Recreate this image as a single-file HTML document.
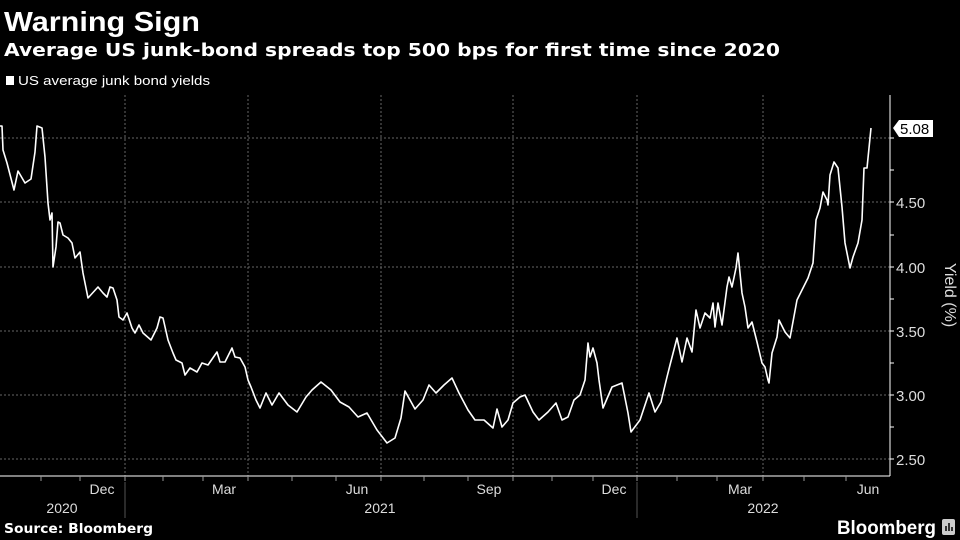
<!DOCTYPE html>
<html><head><meta charset="utf-8"><style>
html,body{margin:0;padding:0;background:#000;width:960px;height:540px;overflow:hidden}
svg{display:block;font-family:"Liberation Sans","DejaVu Sans",sans-serif}
</style></head><body>
<svg width="960" height="540" viewBox="0 0 960 540">
<rect width="960" height="540" fill="#000"/>
<text x="4" y="31" fill="#fff" font-size="28" font-weight="bold" textLength="196" lengthAdjust="spacingAndGlyphs">Warning Sign</text>
<text x="4" y="56" fill="#fff" font-size="18" font-weight="bold" font-family="DejaVu Sans,sans-serif" textLength="776" lengthAdjust="spacingAndGlyphs">Average US junk-bond spreads top 500 bps for first time since 2020</text>
<rect x="6" y="76" width="8" height="9" fill="#fff"/>
<text x="18" y="85" fill="#fff" font-size="13" textLength="192" lengthAdjust="spacingAndGlyphs">US average junk bond yields</text>
<g stroke="#666" stroke-width="1" stroke-dasharray="2,2">
<line x1="0" y1="138" x2="890" y2="138"/><line x1="0" y1="202" x2="890" y2="202"/><line x1="0" y1="267" x2="890" y2="267"/><line x1="0" y1="331" x2="890" y2="331"/><line x1="0" y1="395" x2="890" y2="395"/><line x1="0" y1="459" x2="890" y2="459"/>
<line x1="125" y1="95" x2="125" y2="476"/><line x1="248" y1="95" x2="248" y2="476"/><line x1="381" y1="95" x2="381" y2="476"/><line x1="513" y1="95" x2="513" y2="476"/><line x1="637" y1="95" x2="637" y2="476"/><line x1="763" y1="95" x2="763" y2="476"/>
</g>
<line x1="890" y1="95" x2="890" y2="476" stroke="#fff"/>
<line x1="0" y1="476" x2="890" y2="476" stroke="#fff"/>
<g stroke="#fff"><line x1="890" y1="138" x2="894" y2="138"/><line x1="890" y1="170" x2="894" y2="170"/><line x1="890" y1="202" x2="894" y2="202"/><line x1="890" y1="235" x2="894" y2="235"/><line x1="890" y1="267" x2="894" y2="267"/><line x1="890" y1="299" x2="894" y2="299"/><line x1="890" y1="331" x2="894" y2="331"/><line x1="890" y1="363" x2="894" y2="363"/><line x1="890" y1="395" x2="894" y2="395"/><line x1="890" y1="427" x2="894" y2="427"/><line x1="890" y1="459" x2="894" y2="459"/>
<g stroke="#999"><line x1="41" y1="476" x2="41" y2="481"/><line x1="80" y1="476" x2="80" y2="481"/><line x1="125" y1="476" x2="125" y2="481"/><line x1="163" y1="476" x2="163" y2="481"/><line x1="203" y1="476" x2="203" y2="481"/><line x1="248" y1="476" x2="248" y2="481"/><line x1="292" y1="476" x2="292" y2="481"/><line x1="336" y1="476" x2="336" y2="481"/><line x1="381" y1="476" x2="381" y2="481"/><line x1="424" y1="476" x2="424" y2="481"/><line x1="468" y1="476" x2="468" y2="481"/><line x1="513" y1="476" x2="513" y2="481"/><line x1="552" y1="476" x2="552" y2="481"/><line x1="593" y1="476" x2="593" y2="481"/><line x1="637" y1="476" x2="637" y2="481"/><line x1="677" y1="476" x2="677" y2="481"/><line x1="717" y1="476" x2="717" y2="481"/><line x1="763" y1="476" x2="763" y2="481"/><line x1="804" y1="476" x2="804" y2="481"/><line x1="846" y1="476" x2="846" y2="481"/></g>
<line x1="125" y1="482" x2="125" y2="518" stroke="#555"/><line x1="637" y1="482" x2="637" y2="518" stroke="#555"/>
</g>
<g fill="#ddd" font-size="15">
<text x="896" y="208">4.50</text><text x="896" y="273">4.00</text><text x="896" y="337">3.50</text><text x="896" y="401">3.00</text><text x="896" y="465">2.50</text>
</g>
<text transform="translate(945,295) rotate(90)" fill="#ddd" font-size="16" text-anchor="middle">Yield (%)</text>
<g fill="#ddd" font-size="14" text-anchor="middle">
<text x="102" y="494">Dec</text><text x="224" y="494">Mar</text><text x="357" y="494">Jun</text><text x="489" y="494">Sep</text><text x="614" y="494">Dec</text><text x="740" y="494">Mar</text><text x="868" y="494">Jun</text>
<text x="62" y="513">2020</text><text x="380" y="513">2021</text><text x="763" y="513">2022</text>
</g>
<polyline fill="none" stroke="#fff" stroke-width="1.6" stroke-linejoin="round" points="0,126 2,126 3,150 7,163 14,190 18,171 25,183 31,179 35,152 37,126 42,128 45,157 48,203 50,220 52,213 53,267 56,247 58,222 60,223 63,235 68,238 72,243 75,258 80,252 83,273 88,298 98,287 103,293 107,297 110,287 113,288 117,300 119,317 123,320 127,313 132,328 135,333 139,325 143,333 151,340 157,328 160,317 163,318 168,340 173,353 176,360 182,363 185,375 190,368 197,372 202,363 208,365 217,352 220,362 225,362 232,348 235,357 240,358 245,367 248,380 251,387 256,400 260,408 266,393 272,405 279,393 288,405 297,412 306,397 312,390 321,382 331,390 340,402 349,407 358,417 367,413 377,430 387,443 395,438 401,418 405,391 415,409 423,400 429,385 436,393 444,385 452,378 459,393 468,410 475,420 484,420 493,428 497,409 502,427 508,420 513,403 520,397 525,395 533,412 539,420 548,412 556,403 562,420 568,417 574,400 580,395 585,380 588,343 590,357 593,348 597,363 599,380 603,408 612,387 622,383 628,413 631,432 640,420 649,393 655,412 661,402 667,377 670,365 677,338 682,362 687,338 692,352 696,310 700,328 705,313 710,318 713,303 715,327 718,303 722,325 727,287 729,277 732,287 736,268 738,253 742,293 745,307 748,328 752,322 757,342 762,363 765,367 768,380 769,383 772,353 777,337 779,320 785,332 790,338 797,300 803,288 808,278 813,263 816,220 820,208 823,192 827,200 828,205 830,175 834,162 838,168 842,207 845,243 850,268 853,257 858,243 862,220 864,168 867,168 871,128"/>
<path d="M893,128 L899,120 L933,120 L933,137 L899,137 Z" fill="#fff"/>
<text x="900" y="134" fill="#000" font-size="15">5.08</text>
<text x="4" y="533" fill="#fff" font-size="13" font-weight="bold" font-family="DejaVu Sans,sans-serif" textLength="149" lengthAdjust="spacingAndGlyphs">Source: Bloomberg</text>
<text x="837" y="534" fill="#fff" font-size="19" font-weight="bold" textLength="99" lengthAdjust="spacingAndGlyphs">Bloomberg</text>
<rect x="942" y="519" width="13" height="16" rx="2" fill="#ccc"/>
<g stroke="#000" stroke-width="1.5"><line x1="946" y1="531" x2="946" y2="526"/><line x1="949" y1="531" x2="949" y2="523"/><line x1="952" y1="531" x2="952" y2="527"/></g>
</svg>
</body></html>
